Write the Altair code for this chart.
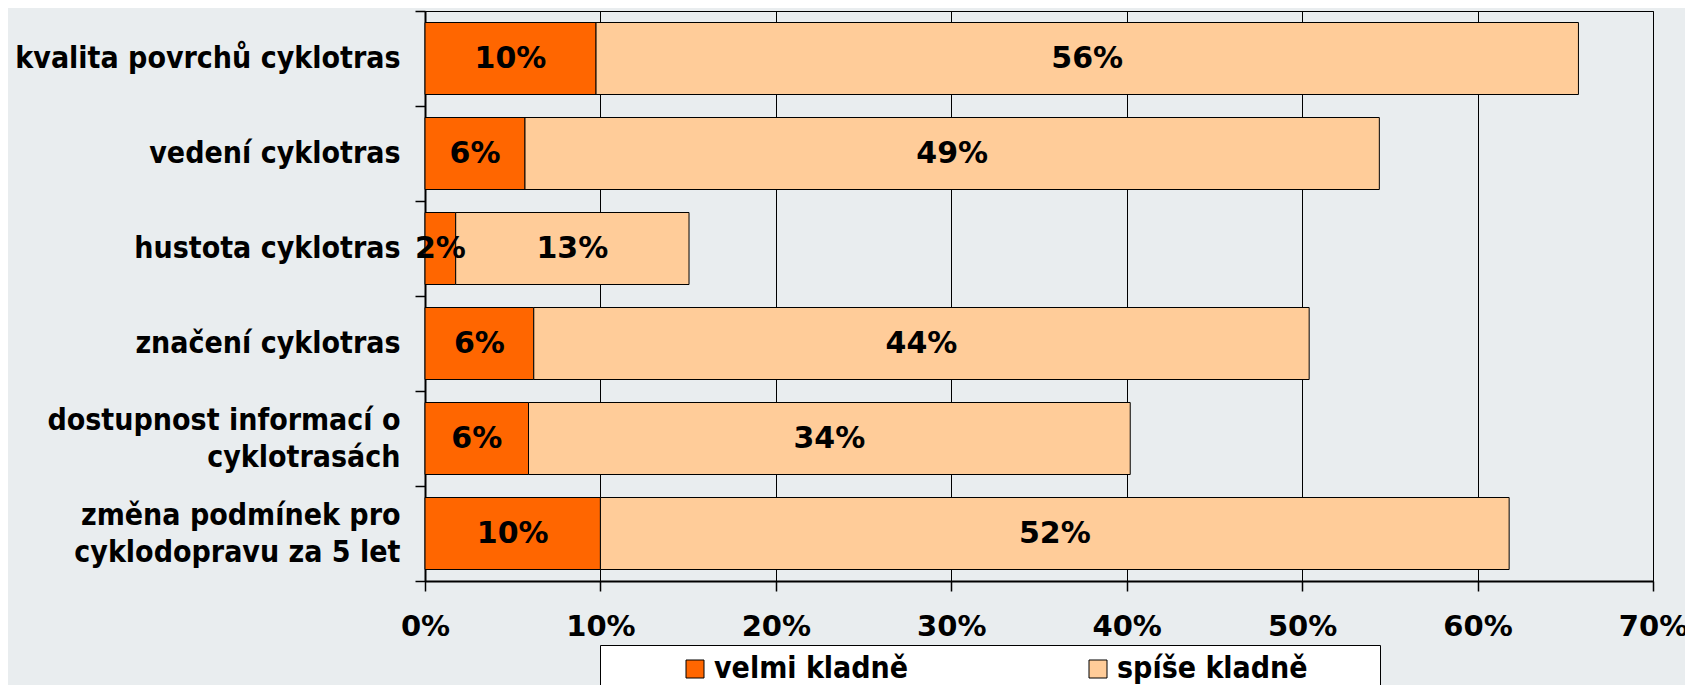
import altair as alt
import pandas as pd

categories = [
    "kvalita povrchů cyklotras",
    "vedení cyklotras",
    "hustota cyklotras",
    "značení cyklotras",
    "dostupnost informací o|cyklotrasách",
    "změna podmínek pro|cyklodopravu za 5 let",
]
velmi = [9.75, 5.7, 1.75, 6.2, 5.9, 10.0]
spise = [56.0, 48.7, 13.3, 44.2, 34.3, 51.8]
series = ["velmi kladně", "spíše kladně"]
colors = ["#FF6600", "#FFCC99"]
x_ticks = [0.0, 0.1, 0.2, 0.3, 0.4, 0.5, 0.6, 0.7]

rows = []
for c, a, b in zip(categories, velmi, spise):
    a, b = a / 100, b / 100
    rows.append(dict(cat=c, series=series[0], start=0.0, end=a, mid=a / 2, value=a, order=0))
    rows.append(dict(cat=c, series=series[1], start=a, end=a + b, mid=a + b / 2, value=b, order=1))
df = pd.DataFrame(rows)

FONT_C = "DejaVu Sans Condensed, DejaVu Sans, sans-serif"
FONT_N = "DejaVu Sans, sans-serif"
NB = "\u00a0"
ZW = "\u200b"
BL = "\u2800"

y_label_expr = (
    "indexof(datum.label, '|') >= 0 ? "
    "[split(datum.label, '|')[0], '" + ZW + "', split(datum.label, '|')[1]] : ['" + ZW + "', datum.label]"
)

y_enc = alt.Y(
    "cat:N",
    sort=categories,
    scale=alt.Scale(paddingInner=0, paddingOuter=0),
    axis=alt.Axis(
        title=None,
        labelExpr=y_label_expr,
        tickBand="extent",
        labelFont=FONT_C,
        labelFontSize=30,
        labelFontWeight="bold",
        labelColor="black",
        labelPadding=15,
        labelLineHeight=18.5,
        labelOffset=-18.5,
        labelLimit=600,
        tickSize=10,
        tickColor="black",
        tickWidth=1.5,
        domainColor="black",
        domainWidth=2,
        grid=False,
    ),
)

x_enc = alt.X(
    "start:Q",
    scale=alt.Scale(domain=[0, 0.7], nice=False),
    axis=alt.Axis(
        title=None,
        values=x_ticks,
        format=".0%",
        grid=True,
        gridColor="black",
        gridWidth=1,
        gridOpacity=1,
        tickSize=10,
        tickColor="black",
        tickWidth=1.5,
        domainColor="black",
        domainWidth=2,
        labelFont=FONT_N,
        labelFontSize=29,
        labelFontWeight="bold",
        labelColor="black",
        labelPadding=21,
        labelFlush=False,
    ),
)

legend = alt.Legend(
    title=NB,
    titleOrient="left",
    titleFontSize=1,
    titlePadding=71,
    orient="none",
    legendX=175,
    legendY=634,
    direction="horizontal",
    fillColor="white",
    strokeColor="black",
    padding=9,
    symbolType="square",
    symbolSize=324,
    symbolStrokeColor="black",
    symbolStrokeWidth=1,
    labelFont=FONT_C,
    labelFontSize=30,
    labelFontWeight="bold",
    labelColor="black",
    labelOffset=4,
    columnPadding=174,
    labelLimit=800,
    labelExpr="datum.value == '" + series[1] + "' ? datum.label + '" + BL * 3 + "' : datum.label",
)

bars = alt.Chart(df).mark_bar(stroke="black", strokeWidth=1, size=72).encode(
    x=x_enc,
    x2="end:Q",
    y=y_enc,
    color=alt.Color("series:N", scale=alt.Scale(domain=series, range=colors), legend=legend),
    order="order:Q",
)

texts = alt.Chart(df).mark_text(
    font=FONT_N, fontSize=30, fontWeight="bold", color="black", baseline="middle", align="center"
).encode(
    x=alt.X("mid:Q"),
    y=alt.Y("cat:N", sort=categories),
    text=alt.Text("value:Q", format=".0%"),
)

chart = (
    alt.layer(bars, texts)
    .properties(
        width=1228,
        height=570,
        autosize=alt.AutoSizeParams(type="none"),
        padding={"left": 417, "top": 3, "right": 32, "bottom": 104},
        background="#E9EDEF",
    )
    .configure_view(stroke="black", strokeWidth=1)
)

chart.save("out.html", embed_options={"renderer": "svg", "actions": False})
